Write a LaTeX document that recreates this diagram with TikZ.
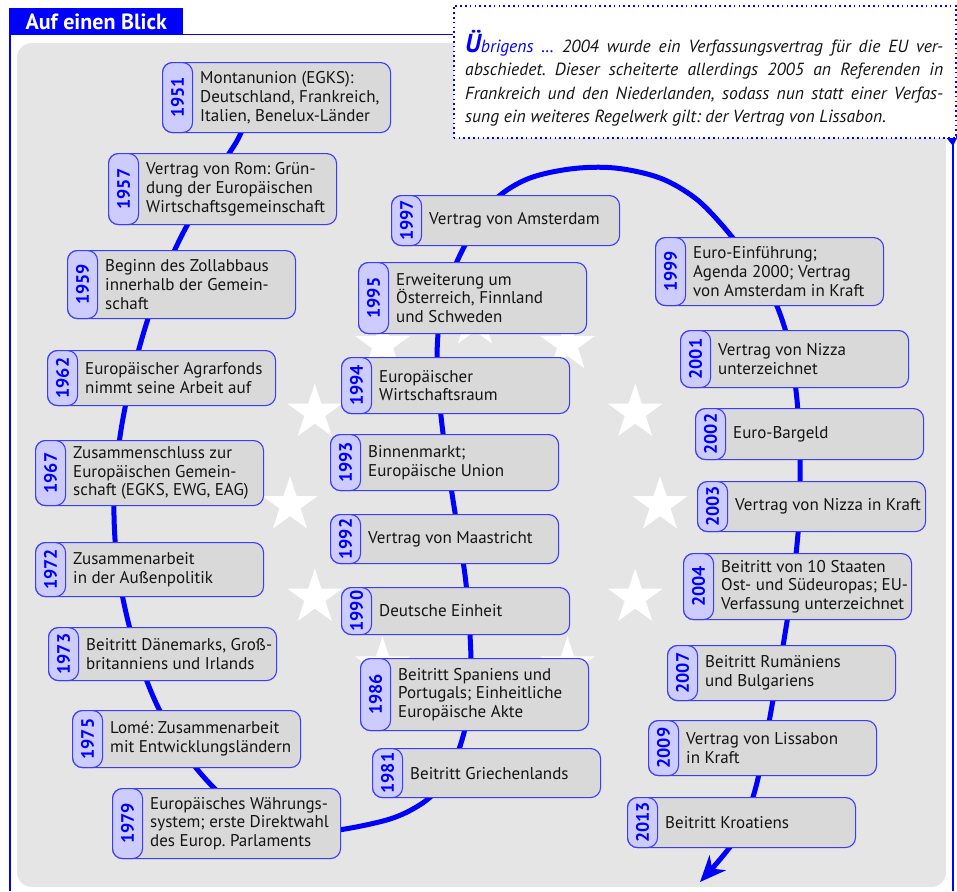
\documentclass[tikz,border=0pt]{standalone}
\usepackage{fontspec}
\setmainfont{PT Sans}
\frenchspacing
\usetikzlibrary{arrows.meta,shapes.geometric}
\definecolor{eublue}{RGB}{0,0,255}
\definecolor{tabfill}{RGB}{204,204,255}
\definecolor{boxfill}{RGB}{217,217,217}
\definecolor{bgfill}{RGB}{229,229,229}
\definecolor{boxline}{RGB}{60,60,255}
\definecolor{txt}{RGB}{20,20,20}
\newcommand\evt[6]{%
  \node[evbox, minimum height=#4pt] (#1) at (#2,#3) {};
  \node[yeartab, minimum height=#4pt] (#1y) at (#1.north west) {\rotatebox{90}{#5}};
  \node[evtext] (#1t) at ([xshift=38pt]#1.west) {#6};
}
\begin{document}
\begin{tikzpicture}[x=1pt,y=-1pt,
  evbox/.style={draw=boxline, line width=1.1pt, fill=boxfill, rounded corners=10pt, minimum width=228pt, inner sep=0pt, anchor=north west},
  yeartab/.style={draw=boxline, line width=1.1pt, fill=tabfill, rounded corners=10pt, minimum width=30pt, inner sep=0pt, anchor=north west, text=eublue, font=\fontsize{18}{18}\selectfont\bfseries},
  evtext/.style={align=left, inner sep=0pt, anchor=west, text=txt, font=\fontsize{17}{18.8}\selectfont},
  staricon/.style={star, star points=5, star point ratio=2.618, fill=white, minimum size=58pt, inner sep=0pt},
  spiral/.style={draw=eublue, line width=5pt},
  frame/.style={draw=eublue, line width=2pt},
]
\useasboundingbox (0,0) rectangle (957,891);
% background
\fill[bgfill, rounded corners=15pt] (17,43) rectangle (946,887);
% stars
\foreach \i in {0,...,11}
  \node[staricon] (star\i) at ({475+185*sin(30*\i)}, {505-185*cos(30*\i)}) {};
% spiral
\draw[spiral, -{Stealth[length=26pt, width=22pt, inset=8pt]}] plot[smooth, tension=0.55] coordinates {
 (255,95) (240,135) (222,165) (182,235) (156,295) (136,360) (121,430) (114,500)
 (118,570) (133,640) (157,705) (190,760) (225,798) (265,823) (305,833) (345,829)
 (390,819) (418,806) (437,790) (455,760) (467,720) (471,680) (470,635) (465,575)
 (453,500) (442,425) (437,360) (442,305) (460,255) (490,205) (525,180) (570,169)
 (615,168) (660,178) (695,198) (722,225) (748,258) (772,295) (788,340) (797,400)
 (800,460) (799,520) (793,580) (784,640) (773,700) (762,760) (752,800) (735,840) (700,882)};
% events
\evt{e1951}{162}{62}{70}{1951}{Montanunion (EGKS):\\Deutschland, Frankreich,\\Italien, Benelux-Länder}
\evt{e1957}{108}{153}{71}{1957}{Vertrag von Rom: Grün-\\dung der Europäischen\\Wirtschaftsgemeinschaft}
\evt{e1959}{67}{250}{68}{1959}{Beginn des Zollabbaus\\innerhalb der Gemein-\\schaft}
\evt{e1962}{47}{350}{55}{1962}{Europäischer Agrarfonds\\nimmt seine Arbeit auf}
\evt{e1967}{35}{440}{65}{1967}{Zusammenschluss zur\\Europäischen Gemein-\\schaft (EGKS, EWG, EAG)}
\evt{e1972}{35}{542}{54}{1972}{Zusammenarbeit\\in der Außenpolitik}
\evt{e1973}{48}{627}{53}{1973}{Beitritt Dänemarks, Groß-\\britanniens und Irlands}
\evt{e1975}{72}{710}{57}{1975}{Lomé: Zusammenarbeit\\mit Entwicklungsländern}
\evt{e1979}{112}{788}{70}{1979}{Europäisches Währungs-\\system; erste Direktwahl\\des Europ. Parlaments}
\evt{e1981}{372}{748}{49}{1981}{Beitritt Griechenlands}
\evt{e1986}{360}{658}{72}{1986}{Beitritt Spaniens und\\Portugals; Einheitliche\\Europäische Akte}
\evt{e1990}{341}{587}{47}{1990}{Deutsche Einheit}
\evt{e1992}{330}{514}{49}{1992}{Vertrag von Maastricht}
\evt{e1993}{330}{434}{56}{1993}{Binnenmarkt;\\Europäische Union}
\evt{e1994}{341}{357}{56}{1994}{Europäischer\\Wirtschaftsraum}
\evt{e1995}{358}{262}{71}{1995}{Erweiterung um\\Österreich, Finnland\\und Schweden}
\evt{e1997}{391}{195}{50}{1997}{Vertrag von Amsterdam}
\evt{e1999}{655}{237}{68}{1999}{Euro-Einführung;\\Agenda 2000; Vertrag\\von Amsterdam in Kraft}
\evt{e2001}{680}{330}{57}{2001}{Vertrag von Nizza\\unterzeichnet}
\evt{e2002}{695}{408}{51}{2002}{Euro-Bargeld}
\evt{e2003}{697}{481}{50}{2003}{Vertrag von Nizza in Kraft}
\evt{e2004}{683}{553}{66}{2004}{Beitritt von 10 Staaten\\Ost- und Südeuropas; EU-\\Verfassung unterzeichnet}
\evt{e2007}{667}{645}{55}{2007}{Beitritt Rumäniens\\und Bulgariens}
\evt{e2009}{648}{720}{55}{2009}{Vertrag von Lissabon\\in Kraft}
\evt{e2013}{627}{797}{50}{2013}{Beitritt Kroatiens}
% frame
\draw[frame] (10,34.5) -- (10,891);
\draw[draw=eublue, line width=1.5pt] (10,34.5) -- (453,34.5);
\draw[frame] (953,143) -- (953,891);
\fill[eublue] (945,136) -- (958,136) -- (953,146) -- cycle;
\node[fill=eublue, anchor=north west, minimum width=174pt, minimum height=27pt, inner sep=0pt, text=white, font=\fontsize{22}{22}\selectfont\bfseries] (hdr) at (9,8) {Auf einen Blick};
% callout
\node[draw=eublue, fill=white, line width=1.6pt, dash pattern=on 1.6pt off 3.2pt, anchor=north west, minimum width=502pt, minimum height=132pt, inner sep=0pt] (note) at (453,5) {};
\node[anchor=north west, text width=478pt, align=justify, inner sep=0pt, text=txt, font=\fontsize{17.6}{23.3}\selectfont\itshape] (notetext) at (465,30)
 {{\color{eublue}{\fontsize{26}{26}\selectfont\bfseries Ü}brigens …} 2004 wurde ein Verfassungsvertrag für die EU ver-\linebreak abschiedet. Dieser scheiterte allerdings 2005 an Referenden in\linebreak Frankreich und den Niederlanden, sodass nun statt einer Verfas-\linebreak sung ein weiteres Regelwerk gilt: der Vertrag von Lissabon.};
\end{tikzpicture}
\end{document}
